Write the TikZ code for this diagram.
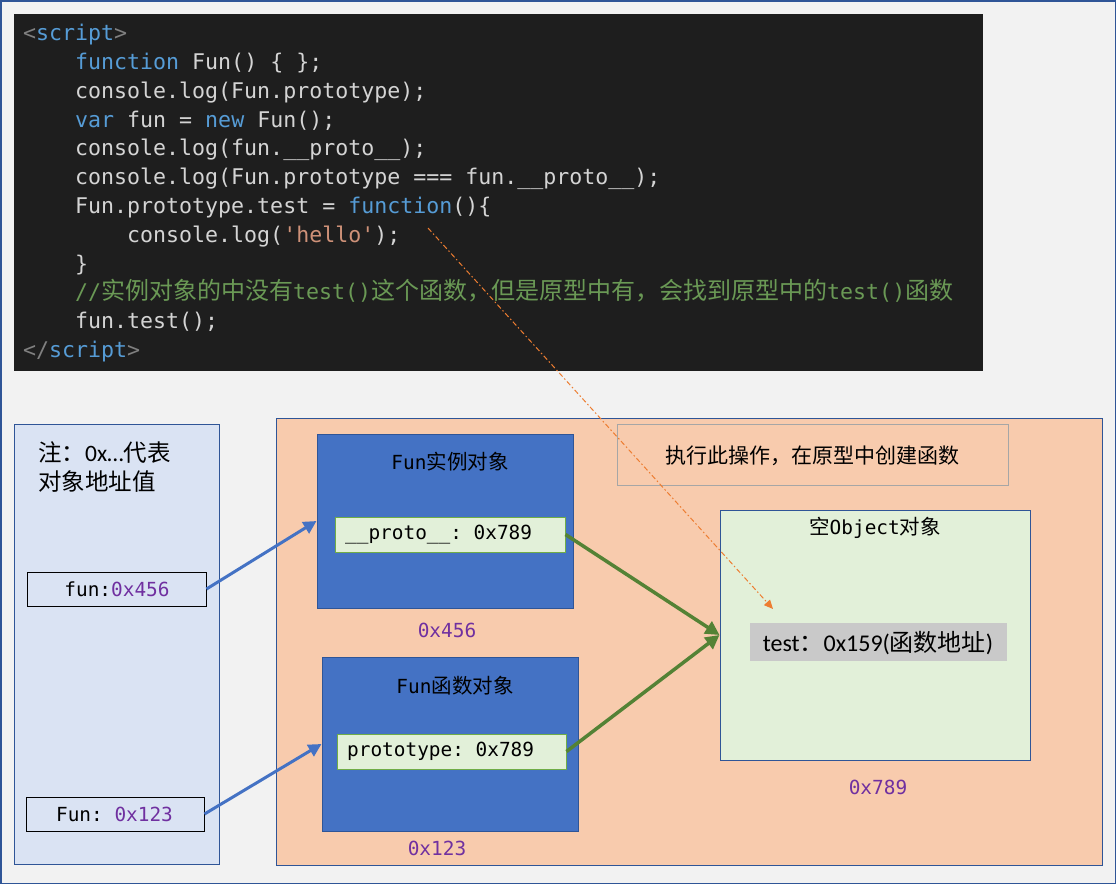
\documentclass[tikz,border=0pt]{standalone}
\usepackage{fontspec}
\setmonofont{DejaVu Sans Mono}
\newfontfamily\cjk{Noto Sans CJK SC}
\newfontfamily\calfont{Carlito}
\usetikzlibrary{arrows.meta}
\definecolor{bgc}{HTML}{F2F2F2}
\definecolor{framec}{HTML}{2F5597}
\definecolor{codebg}{HTML}{1E1E1E}
\definecolor{codefg}{HTML}{D4D4D4}
\definecolor{kw}{HTML}{569CD6}
\definecolor{strc}{HTML}{CE9178}
\definecolor{cmt}{HTML}{6A9955}
\definecolor{tagc}{HTML}{808080}
\definecolor{leftfill}{HTML}{DAE3F3}
\definecolor{orangefill}{HTML}{F8CBAD}
\definecolor{bluebox}{HTML}{4472C4}
\definecolor{greenfill}{HTML}{E2F0D9}
\definecolor{greenborder}{HTML}{70AD47}
\definecolor{greenarrow}{HTML}{548235}
\definecolor{purp}{HTML}{7030A0}
\definecolor{grayfill}{HTML}{C9C9C9}
\definecolor{noteborder}{HTML}{A6A6A6}
\definecolor{dasharrow}{HTML}{ED7D31}
\tikzset{
  codeline/.style={anchor=base west, inner sep=0pt, text=codefg, font=\ttfamily\fontsize{21.6}{26}\selectfont},
  panel/.style={draw=framec, line width=1pt, inner sep=0pt},
  field/.style={draw=greenborder, fill=greenfill, line width=1pt, inner sep=0pt},
  varbox/.style={draw=black, line width=1pt, inner sep=0pt, fill=leftfill},
  mono/.style={inner sep=0pt, font=\ttfamily\fontsize{19.4}{23}\selectfont},
  addr/.style={inner sep=0pt, text=purp, font=\ttfamily\fontsize{19.4}{23}\selectfont},
  bluearrow/.style={draw=bluebox, line width=3pt, -{Triangle[length=13pt,width=13pt]}},
  greenarr/.style={draw=greenarrow, line width=3.5pt, -{Triangle[length=14pt,width=14pt]}},
  orangearr/.style={draw=dasharrow, line width=1pt, dash pattern=on 5pt off 2.5pt on 1.5pt off 2.5pt, -{Triangle[length=9pt,width=8pt]}},
}
\newcommand{\kwd}[1]{{\color{kw}#1}}
\begin{document}
\begin{tikzpicture}[x=1pt,y=-1pt]
\useasboundingbox (0,0) rectangle (1116,884);
\fill[bgc] (0,0) rectangle (1116,884);
\draw[framec, line width=1.5pt] (0.75,0.75) rectangle (1115.25,883.25);

% code block
\node[fill=codebg, inner sep=0pt, minimum width=969pt, minimum height=357pt] (code) at (498.5,192.5) {};
\node[codeline] (c1) at (23,40) {{\color{tagc}<}\kwd{script}{\color{tagc}>}};
\node[codeline] (c2) at (75,69) {\kwd{function} Fun() \{ \};};
\node[codeline] (c3) at (75,98) {console.log(Fun.prototype);};
\node[codeline] (c4) at (75,127) {\kwd{var} fun = \kwd{new} Fun();};
\node[codeline] (c5) at (75,155) {console.log(fun.\_\_proto\_\_);};
\node[codeline] (c6) at (75,184) {console.log(Fun.prototype === fun.\_\_proto\_\_);};
\node[codeline] (c7) at (75,213) {Fun.prototype.test = \kwd{function}()\{};
\node[codeline] (c8) at (127,242) {console.log({\color{strc}\symbol{39}hello\symbol{39}});};
\node[codeline] (c9) at (75,271) {\}};
\node[codeline, text=cmt] (c10) at (75,299) {//{\cjk\fontsize{24}{28}\selectfont 实例对象的中没有}test(){\cjk\fontsize{24}{28}\selectfont 这个函数，但是原型中有，会找到原型中的}test(){\cjk\fontsize{24}{28}\selectfont 函数}};
\node[codeline] (c11) at (75,328) {fun.test();};
\node[codeline] (c12) at (23,357) {{\color{tagc}</}\kwd{script}{\color{tagc}>}};

% left panel
\node[panel, fill=leftfill, minimum width=205pt, minimum height=440pt] (left) at (116.5,644) {};
\node[anchor=west, inner sep=0pt, font=\fontsize{23.5}{27}\selectfont] (note1) at (38,453) {{\cjk 注：}{\calfont 0x…}{\cjk 代表}};
\node[anchor=west, inner sep=0pt, font=\fontsize{23.5}{27}\selectfont] (note2) at (38,482) {\cjk 对象地址值};
\node[varbox, minimum width=179pt, minimum height=34pt] (funvar) at (116.5,589) {};
\node[mono] (funvart) at (117,589) {fun:{\color{purp}0x456}};
\node[varbox, minimum width=178pt, minimum height=34pt] (Funvar) at (115,814) {};
\node[mono] (Funvart) at (114.5,814) {Fun: {\color{purp}0x123}};

% orange panel
\node[panel, fill=orangefill, minimum width=826pt, minimum height=447pt] (heap) at (689,641.5) {};

% instance object
\node[panel, fill=bluebox, minimum width=256pt, minimum height=174pt] (inst) at (445,521) {};
\node[mono] (instt) at (450,462) {Fun{\cjk\fontsize{20.5}{24}\selectfont 实例对象}};
\node[field, minimum width=230pt, minimum height=35pt] (proto) at (450,534.5) {};
\node[mono, anchor=west] (protot) at (345,535) {\_\_proto\_\_: 0x789};
\node[addr] (insta) at (447,630) {0x456};

% function object
\node[panel, fill=bluebox, minimum width=256pt, minimum height=174pt] (func) at (450,744) {};
\node[mono] (funct) at (455,686) {Fun{\cjk\fontsize{20.5}{24}\selectfont 函数对象}};
\node[field, minimum width=229pt, minimum height=35pt] (ptype) at (451.5,751.5) {};
\node[mono, anchor=west] (ptypet) at (347,751) {prototype: 0x789};
\node[addr] (funca) at (437,848) {0x123};

% note
\node[draw=noteborder, line width=1pt, fill=orangefill, inner sep=0pt, minimum width=391pt, minimum height=61pt] (note) at (812.5,454.5) {};
\node[inner sep=0pt, font=\cjk\fontsize{21}{25}\selectfont] (notet) at (812,456) {执行此操作，在原型中创建函数};

% prototype object
\node[panel, fill=greenfill, minimum width=310pt, minimum height=250pt] (obj) at (875,635) {};
\node[mono] (objt) at (875,528) {{\cjk\fontsize{20.5}{24}\selectfont 空}Object{\cjk\fontsize{20.5}{24}\selectfont 对象}};
\node[fill=grayfill, inner sep=0pt, minimum width=257pt, minimum height=38pt] (testb) at (878.5,642) {};
\node[inner sep=0pt, font=\fontsize{24}{28}\selectfont] (testt) at (878,643) {{\calfont test}{\cjk ：}{\calfont 0x159(}{\cjk 函数地址}{\calfont )}};
\node[addr] (obja) at (878,787) {0x789};

% arrows
\draw[bluearrow] (funvar.east) -- (inst.west);
\draw[bluearrow] (Funvar.east) -- (func.west);
\draw[greenarr] (proto.east) -- (obj.west);
\draw[greenarr] (ptype.east) -- (obj.west);
\coordinate (dstart) at (428,228);
\coordinate (dend) at (773,609);
\draw[orangearr] (dstart) -- (dend);
\end{tikzpicture}
\end{document}
